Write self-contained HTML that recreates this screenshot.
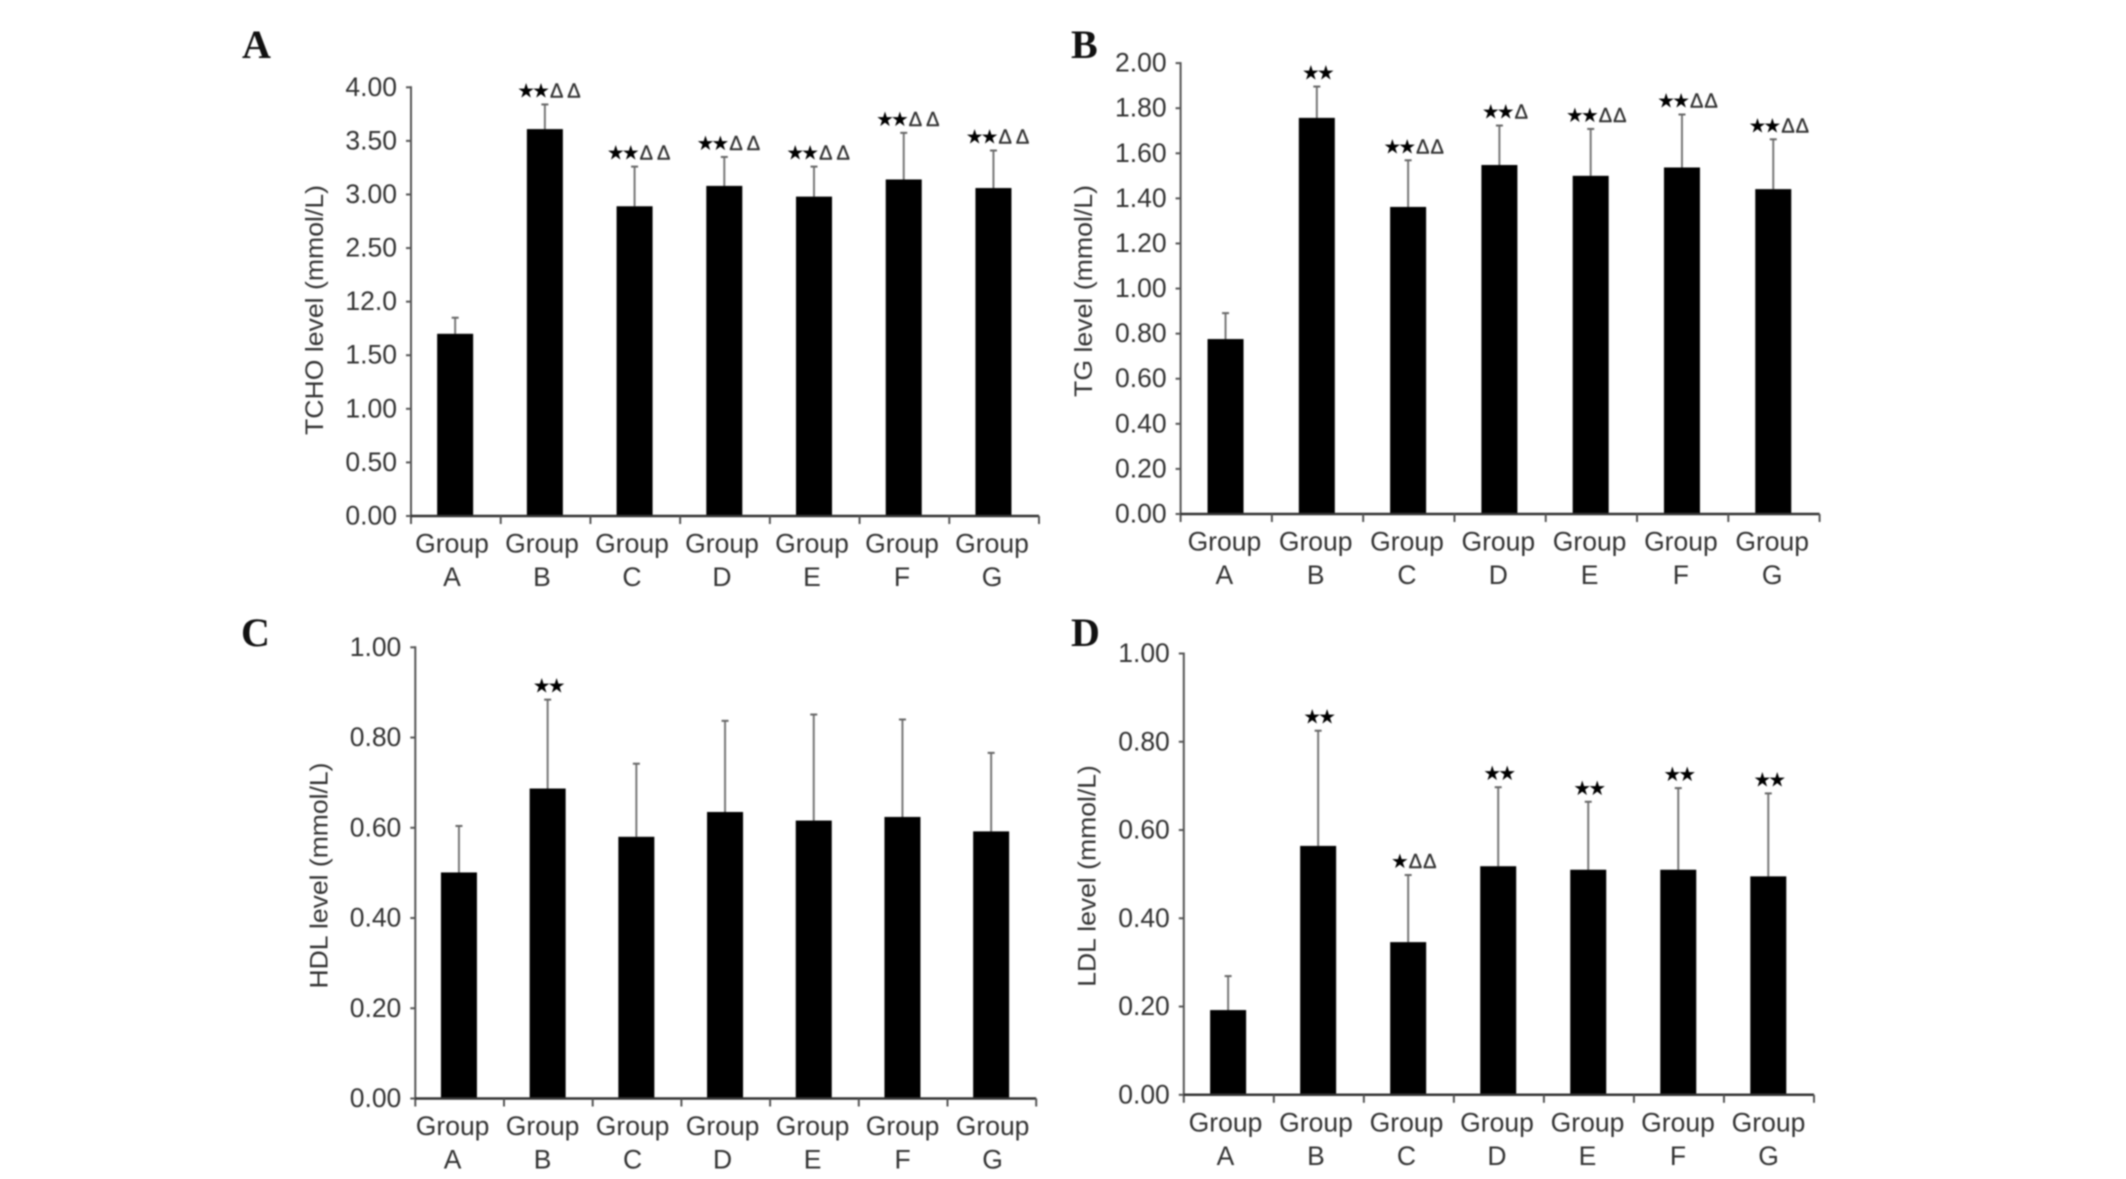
<!DOCTYPE html>
<html lang="en">
<head>
<meta charset="utf-8">
<title>Serum lipid levels by group</title>
<style>
  html, body { margin: 0; padding: 0; background: #fff; }
  #figure { display: block; width: 2126px; height: 1179px; }
  text { font-family: "Liberation Sans", "DejaVu Sans", sans-serif; fill: #333; }
  .soft { filter: blur(0.7px); }
  .panel-letter { font-family: "Liberation Serif", serif; font-weight: bold; font-size: 40px; fill: #111; }
  .tick-text { font-size: 26.5px; }
  .title-text { font-size: 25px; }
  .star { font-family: "DejaVu Sans", sans-serif; font-size: 20px; fill: #000; letter-spacing: -3px; }
  .delta { font-family: "Liberation Sans", sans-serif; font-size: 20px; fill: #333; stroke: #333; stroke-width: 0.4px; }
</style>
</head>
<body>
<svg id="figure" xmlns="http://www.w3.org/2000/svg" viewBox="0 0 2126 1179">
  <rect x="0" y="0" width="2126" height="1179" fill="#ffffff"/>
  <g id="root" class="soft"></g>
</svg>
<script>
// Shared categories
const categories = ['A', 'B', 'C', 'D', 'E', 'F', 'G'];

// Panel A: TCHO
const tchoMeans = [1.70, 3.61, 2.89, 3.08, 2.98, 3.14, 3.06];
const tchoUpper = [1.85, 3.84, 3.26, 3.35, 3.26, 3.575, 3.41];
const tchoMarks = ['', '★★|ΔΔ', '★★|ΔΔ', '★★|ΔΔ', '★★|ΔΔ', '★★|ΔΔ', '★★|ΔΔ'];
const tchoTicks = [0, 0.5, 1, 1.5, 2, 2.5, 3, 3.5, 4];
const tchoTickLabels = ['0.00', '0.50', '1.00', '1.50', '12.0', '2.50', '3.00', '3.50', '4.00'];

// Panel B: TG
const tgMeans = [0.776, 1.757, 1.362, 1.548, 1.50, 1.537, 1.441];
const tgUpper = [0.891, 1.896, 1.569, 1.723, 1.708, 1.772, 1.662];
const tgMarks = ['', '★★|', '★★|ΔΔ', '★★|Δ', '★★|ΔΔ', '★★|ΔΔ', '★★|ΔΔ'];
const tgTicks = [0, 0.2, 0.4, 0.6, 0.8, 1, 1.2, 1.4, 1.6, 1.8, 2];
const tgTickLabels = ['0.00', '0.20', '0.40', '0.60', '0.80', '1.00', '1.20', '1.40', '1.60', '1.80', '2.00'];

// Panel C: HDL
const hdlMeans = [0.501, 0.687, 0.58, 0.635, 0.616, 0.624, 0.592];
const hdlUpper = [0.604, 0.884, 0.742, 0.837, 0.851, 0.84, 0.766];
const hdlMarks = ['', '★★|', '', '', '', '', ''];
const hdlTicks = [0, 0.2, 0.4, 0.6, 0.8, 1];
const hdlTickLabels = ['0.00', '0.20', '0.40', '0.60', '0.80', '1.00'];

// Panel D: LDL
const ldlMeans = [0.192, 0.564, 0.346, 0.518, 0.51, 0.51, 0.495];
const ldlUpper = [0.269, 0.825, 0.498, 0.697, 0.664, 0.695, 0.683];
const ldlMarks = ['', '★★|', '★|ΔΔ', '★★|', '★★|', '★★|', '★★|'];
const ldlTicks = [0, 0.2, 0.4, 0.6, 0.8, 1];
const ldlTickLabels = ['0.00', '0.20', '0.40', '0.60', '0.80', '1.00'];

const SVGNS = 'http://www.w3.org/2000/svg';
const root = document.getElementById('root');

function mk(tag, attrs, parent, txt) {
  const el = document.createElementNS(SVGNS, tag);
  for (const k in attrs) el.setAttribute(k, attrs[k]);
  if (txt !== undefined) el.textContent = txt;
  parent.appendChild(el);
  return el;
}

function drawPanel(cfg) {
  const g = mk('g', {}, root);
  
  

  const yScale = v => cfg.y0 - (v / cfg.yMax) * (cfg.y0 - cfg.y1);
  const step = (cfg.x1 - cfg.x0) / categories.length;
  const xScale = i => cfg.x0 + (i + 0.5) * step - 0.7;
  const labelScale = i => cfg.labelStart + i * cfg.labelStep;

  const letter = mk('text', { x: cfg.letterX, y: cfg.letterY, class: 'panel-letter' }, g, cfg.letter);
  
  

  const title = mk('text', {
    class: 'title-text', 'text-anchor': 'middle',
    transform: 'translate(' + cfg.titleX + ',' + cfg.titleY + ') rotate(-90)',
    textLength: cfg.titleLen, lengthAdjust: 'spacingAndGlyphs'
  }, g, cfg.title);
  
  

  // bars + error bars
  categories.forEach((c, i) => {
    const cx = xScale(i);
    const top = yScale(cfg.means[i]);
    const eTop = yScale(cfg.upper[i]);

    const stem = mk('line', { x1: cx, x2: cx, y1: top, y2: eTop, stroke: '#777', 'stroke-width': 2 }, g);
    
    

    const cap = mk('line', { x1: cx - 3.5, x2: cx + 3.5, y1: eTop, y2: eTop, stroke: '#666', 'stroke-width': 2 }, g);
    
    

    const bar = mk('rect', { x: cx - 18, y: top, width: 36, height: cfg.y0 - top, fill: '#000' }, g);
    
    

    if (cfg.marks[i]) {
      const parts = cfg.marks[i].split('|');
      const mark = mk('text', { x: cx + (parts[1] ? 6 : 0), y: eTop - 7, 'text-anchor': 'middle' }, g);
      
      
      mk('tspan', { class: 'star' }, mark, parts[0]);
      if (parts[1]) mk('tspan', { class: 'delta', dx: 3, 'letter-spacing': cfg.deltaGap }, mark, parts[1]);
    }

    const lab1 = mk('text', { x: labelScale(i), y: cfg.y0 + 36.5, class: 'tick-text', 'text-anchor': 'middle' }, g, 'Group');
    
    

    const lab2 = mk('text', { x: labelScale(i), y: cfg.y0 + 70, class: 'tick-text', 'text-anchor': 'middle' }, g, c);
    
    
  });

  // y axis
  const yAxis = mk('line', { x1: cfg.x0, x2: cfg.x0, y1: cfg.y1 - 1, y2: cfg.y0 + 8, stroke: '#555', 'stroke-width': 2 }, g);
  
  

  cfg.ticks.forEach((t, i) => {
    const y = yScale(t);
    const tick = mk('line', { x1: cfg.x0 - 5, x2: cfg.x0, y1: y, y2: y, stroke: '#555', 'stroke-width': 2 }, g);
    
    

    const lab = mk('text', { x: cfg.x0 - 14, y: y + 8.5, class: 'tick-text', 'text-anchor': 'end' }, g, cfg.tickLabels[i]);
    
    
  });

  // x axis
  const xAxis = mk('line', { x1: cfg.x0, x2: cfg.x1, y1: cfg.y0, y2: cfg.y0, stroke: '#333', 'stroke-width': 2.5 }, g);
  
  

  for (let i = 1; i <= categories.length; i++) {
    const tx = cfg.x0 + i * step;
    const tick = mk('line', { x1: tx, x2: tx, y1: cfg.y0, y2: cfg.y0 + 8, stroke: '#555', 'stroke-width': 2 }, g);
    
    
  }
}

drawPanel({ id: 'tcho', letter: 'A', letterX: 242, letterY: 58, title: 'TCHO level (mmol/L)', titleX: 323, titleY: 310, titleLen: 250,
  x0: 411, x1: 1039, y0: 516, y1: 87.3, yMax: 4, deltaGap: 4, labelStart: 452, labelStep: 90,
  means: tchoMeans, upper: tchoUpper, marks: tchoMarks, ticks: tchoTicks, tickLabels: tchoTickLabels });

drawPanel({ id: 'tg', letter: 'B', letterX: 1071, letterY: 58, title: 'TG level (mmol/L)', titleX: 1092, titleY: 291, titleLen: 212,
  x0: 1180.6, x1: 1819.6, y0: 514, y1: 63.1, yMax: 2, deltaGap: 1, labelStart: 1224.4, labelStep: 91.3,
  means: tgMeans, upper: tgUpper, marks: tgMarks, ticks: tgTicks, tickLabels: tgTickLabels });

drawPanel({ id: 'hdl', letter: 'C', letterX: 241, letterY: 646, title: 'HDL level (mmol/L)', titleX: 327.5, titleY: 875.5, titleLen: 226,
  x0: 415.3, x1: 1036.2, y0: 1098.5, y1: 647.3, yMax: 1, deltaGap: 2, labelStart: 452.6, labelStep: 90,
  means: hdlMeans, upper: hdlUpper, marks: hdlMarks, ticks: hdlTicks, tickLabels: hdlTickLabels });

drawPanel({ id: 'ldl', letter: 'D', letterX: 1071, letterY: 646, title: 'LDL level (mmol/L)', titleX: 1095.5, titleY: 876, titleLen: 221.6,
  x0: 1183.8, x1: 1814, y0: 1094.8, y1: 653.5, yMax: 1, deltaGap: 1, labelStart: 1225.5, labelStep: 90.5,
  means: ldlMeans, upper: ldlUpper, marks: ldlMarks, ticks: ldlTicks, tickLabels: ldlTickLabels });
</script>
</body>
</html>
